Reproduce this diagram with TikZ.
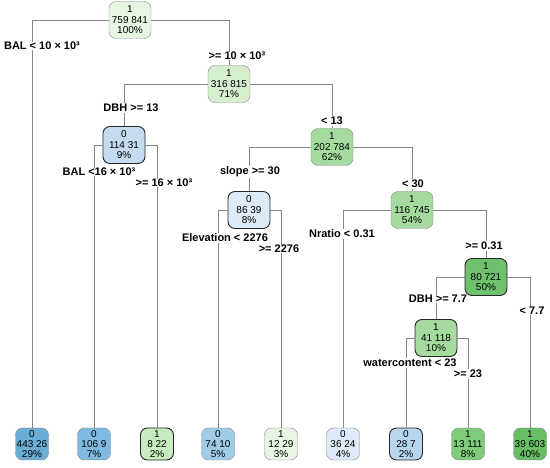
\documentclass[tikz,border=0pt]{standalone}
\usepackage{fontspec}
\setmainfont{Liberation Sans}

% fill colours of the boxes
\definecolor{grA}{HTML}{E8F5E3}
\definecolor{grB}{HTML}{D4EECE}
\definecolor{grC}{HTML}{A6DB9F}
\definecolor{grD}{HTML}{6FC16E}
\definecolor{grE}{HTML}{C8EAC0}
\definecolor{grF}{HTML}{80CC7B}
\definecolor{grG}{HTML}{68BE65}
\definecolor{blA}{HTML}{C5DCF0}
\definecolor{blB}{HTML}{DDEAF7}
\definecolor{blC}{HTML}{6AAED6}
\definecolor{blD}{HTML}{7DB9E0}
\definecolor{blE}{HTML}{A0CBE6}
\definecolor{blF}{HTML}{B8D5EE}

\begin{document}
\begin{tikzpicture}[x=1pt, y=-1pt,
  box/.style={draw=gray!95, rounded corners=7pt, align=center, inner sep=1pt,
    font=\fontsize{10}{10.5}\selectfont, minimum width=42pt, minimum height=37pt},
  leaf/.style={box, minimum width=33pt, minimum height=32pt,
    font=\fontsize{10}{10}\selectfont},
  hilite/.style={draw=black!85, line width=0.9pt},
  lbl/.style={fill=white, inner sep=0.6pt, font=\fontsize{11}{13}\selectfont\bfseries},
  edge/.style={draw=gray!95, line width=0.75pt}]

  \useasboundingbox (0,0) rectangle (550,468);

  % ==========================================
  % inner nodes
  % ==========================================
  \node[box, fill=grA] (N_root) at (130,20) {1\\759 841\\100\%};
  \node[box, fill=grB] (N_bal) at (229,84) {1\\316 815\\71\%};
  \node[box, hilite, fill=blA] (N_dbh) at (124,145) {0\\114 31\\9\%};
  \node[box, fill=grC] (N_dbhlow) at (332,147) {1\\202 784\\62\%};
  \node[box, hilite, fill=blB] (N_slope) at (249,210) {0\\86 39\\8\%};
  \node[box, fill=grC] (N_flat) at (412,210) {1\\116 745\\54\%};
  \node[box, hilite, fill=grD] (N_nratio) at (486,277) {1\\80 721\\50\%};
  \node[box, hilite, fill=grC] (N_water) at (436,338) {1\\41 118\\10\%};

  % ==========================================
  % leaves
  % ==========================================
  \node[leaf, fill=blC] (L_1) at (32,444) {0\\443 26\\29\%};
  \node[leaf, fill=blD] (L_2) at (94,444) {0\\106 9\\7\%};
  \node[leaf, hilite, fill=grE] (L_3) at (157,444) {1\\8 22\\2\%};
  \node[leaf, fill=blE] (L_4) at (218,444) {0\\74 10\\5\%};
  \node[leaf, fill=grA] (L_5) at (281,444) {1\\12 29\\3\%};
  \node[leaf, fill=blB] (L_6) at (343,444) {0\\36 24\\4\%};
  \node[leaf, hilite, fill=blF] (L_7) at (406,444) {0\\28 7\\2\%};
  \node[leaf, fill=grF] (L_8) at (468,444) {1\\13 111\\8\%};
  \node[leaf, fill=grG] (L_9) at (530,444) {1\\39 603\\40\%};

  % ==========================================
  % branches
  % ==========================================
  \draw[edge] (N_root.west) -| (L_1.north);
  \draw[edge] (N_root.east) -| (N_bal.north);
  \draw[edge] (N_bal.west) -| (N_dbh.north);
  \draw[edge] (N_bal.east) -| (N_dbhlow.north);
  \draw[edge] (N_dbh.west) -| (L_2.north);
  \draw[edge] (N_dbh.east) -| (L_3.north);
  \draw[edge] (N_dbhlow.west) -| (N_slope.north);
  \draw[edge] (N_dbhlow.east) -| (N_flat.north);
  \draw[edge] (N_slope.west) -| (L_4.north);
  \draw[edge] (N_slope.east) -| (L_5.north);
  \draw[edge] (N_flat.west) -| (L_6.north);
  \draw[edge] (N_flat.east) -| (N_nratio.north);
  \draw[edge] (N_nratio.west) -| (N_water.north);
  \draw[edge] (N_nratio.east) -| (L_9.north);
  \draw[edge] (N_water.west) -| (L_7.north);
  \draw[edge] (N_water.east) -| (L_8.north);

  % ==========================================
  % split labels
  % ==========================================
  \node[lbl] (t_bal10) at (42,46) {BAL < 10 × 10³};
  \node[lbl] (t_bal10r) at (237,56) {>= 10 × 10³};
  \node[lbl] (t_dbh13) at (131,108) {DBH >= 13};
  \node[lbl] (t_dbh13r) at (332,121) {< 13};
  \node[lbl] (t_bal16) at (99,172) {BAL <16 × 10³};
  \node[lbl] (t_bal16r) at (164,183) {>= 16 × 10³};
  \node[lbl] (t_slope) at (250,172) {slope >= 30};
  \node[lbl] (t_slope_r) at (413,184) {< 30};
  \node[lbl] (t_elev) at (225,238) {Elevation < 2276};
  \node[lbl] (t_elev_r) at (279,249) {>= 2276};
  \node[lbl] (t_nratio) at (342,234) {Nratio < 0.31};
  \node[lbl] (t_nratio_r) at (484,246) {>= 0.31};
  \node[lbl] (t_dbh77) at (438,299) {DBH >= 7.7};
  \node[lbl] (t_dbh77r) at (532,311) {< 7.7};
  \node[lbl] (t_water) at (410,363) {watercontent < 23};
  \node[lbl] (t_water_r) at (468,374) {>= 23};

\end{tikzpicture}
\end{document}
